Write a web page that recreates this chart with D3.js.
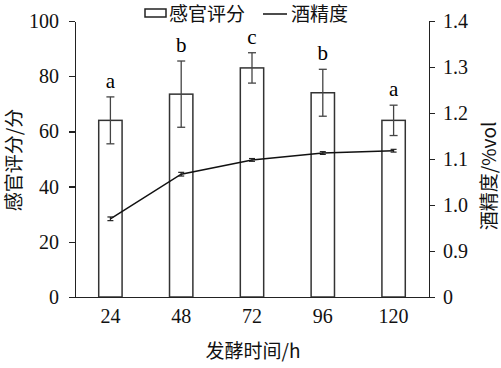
<!DOCTYPE html>
<html lang="en">
<head>
<meta charset="utf-8">
<title>fermentation</title>
<script type="text/javascript" src="https://cdn.jsdelivr.net/npm/d3@7"></script>
<style type="text/css">
body{ margin:0; background:#fff; }
.axis path,
.axis line{
  stroke: #222;
  stroke-width: 1.5px;
  shape-rendering: crispEdges;
}
.axis text{
  font-family: "Liberation Serif", "Times New Roman", serif;
  font-size: 20px;
  fill: #111;
}
.cn{
  font-family: "Noto Sans CJK SC", sans-serif;
  font-size: 19px;
  fill: #111;
}
</style>
</head>
<body>
<script type="text/javascript">
var w = 501;
var h = 368;

// data
var hours = ["24", "48", "72", "96", "120"];
var score = [64, 73.5, 83, 74, 64];
var scoreErr = [8.5, 12, 5.5, 8.5, 5.5];
var letters = ["a", "b", "c", "b", "a"];
var alcohol = [0.970, 1.067, 1.098, 1.113, 1.118];
var alcoholErr = [0.004, 0.004, 0.003, 0.003, 0.003];
var leftTicks = [0, 20, 40, 60, 80, 100];
var rightTicks = [0.8, 0.9, 1.0, 1.1, 1.2, 1.3, 1.4];

var pLeft = 75, pRight = 429, pTop = 21, pBottom = 297;

var xScale = d3.scaleBand()
               .domain(hours)
               .range([pLeft, pRight])
               .paddingInner(0.67)
               .paddingOuter(0.335);
var yScale = d3.scaleLinear()
               .domain([0, 100])
               .range([pBottom, pTop]);
// right axis is broken: 0 sits where 0.8 would be
var y2Scale = d3.scaleLinear()
               .domain([0.8, 1.4])
               .range([pBottom, pTop]);

var svg = d3.select("body")
            .append("svg")
            .attr("width", w)
            .attr("height", h);

// bars
svg.selectAll("rect.bar")
   .data(score)
   .enter()
   .append("rect")
   .attr("class", "bar")
   .attr("x", function(d, i){ return xScale(hours[i]); })
   .attr("y", function(d){ return yScale(d); })
   .attr("width", xScale.bandwidth())
   .attr("height", function(d){ return pBottom - yScale(d); })
   .attr("fill", "white")
   .attr("stroke", "#333")
   .attr("stroke-width", 1.5);

var cx = function(i){ return xScale(hours[i]) + xScale.bandwidth() / 2; };

// bar error bars
var eb = svg.append("g").attr("stroke", "#444").attr("stroke-width", 1.3);
score.forEach(function(d, i){
  var y1 = yScale(d + scoreErr[i]), y0 = yScale(d - scoreErr[i]);
  eb.append("line").attr("x1", cx(i)).attr("x2", cx(i)).attr("y1", y1).attr("y2", y0);
  eb.append("line").attr("x1", cx(i) - 4).attr("x2", cx(i) + 4).attr("y1", y1).attr("y2", y1);
  eb.append("line").attr("x1", cx(i) - 4).attr("x2", cx(i) + 4).attr("y1", y0).attr("y2", y0);
});

// significance letters
svg.selectAll("text.sig")
   .data(letters)
   .enter()
   .append("text")
   .attr("class", "sig")
   .attr("x", function(d, i){ return cx(i); })
   .attr("y", function(d, i){ return yScale(score[i] + scoreErr[i]) - 9; })
   .attr("text-anchor", "middle")
   .attr("font-family", "Liberation Serif, serif")
   .attr("font-size", "21px")
   .text(function(d){ return d; });

// alcohol line
var line = d3.line()
             .x(function(d, i){ return cx(i); })
             .y(function(d){ return y2Scale(d); });
svg.append("path")
   .datum(alcohol)
   .attr("d", line)
   .attr("fill", "none")
   .attr("stroke", "#111")
   .attr("stroke-width", 1.5);

var lb = svg.append("g").attr("stroke", "#222").attr("stroke-width", 1.2);
alcohol.forEach(function(d, i){
  var y1 = y2Scale(d + alcoholErr[i]), y0 = y2Scale(d - alcoholErr[i]);
  lb.append("line").attr("x1", cx(i)).attr("x2", cx(i)).attr("y1", y1).attr("y2", y0);
  lb.append("line").attr("x1", cx(i) - 3).attr("x2", cx(i) + 3).attr("y1", y1).attr("y2", y1);
  lb.append("line").attr("x1", cx(i) - 3).attr("x2", cx(i) + 3).attr("y1", y0).attr("y2", y0);
});

// axes
var xAxis = d3.axisBottom(xScale).tickSize(0).tickPadding(12);
var yAxis = d3.axisLeft(yScale).tickValues(leftTicks).tickSize(6).tickSizeOuter(0).tickPadding(10);
var y2Axis = d3.axisRight(y2Scale).tickValues(rightTicks).tickSize(6).tickSizeOuter(0).tickPadding(8)
               .tickFormat(function(d){ return d === 0.8 ? "0" : d3.format(".1f")(d); });

svg.append("g")
   .attr("class", "axis")
   .attr("transform", "translate(0," + pBottom + ")")
   .call(xAxis);
svg.append("g")
   .attr("class", "axis")
   .attr("transform", "translate(" + pLeft + ",0)")
   .call(yAxis);
svg.append("g")
   .attr("class", "axis")
   .attr("transform", "translate(" + pRight + ",0)")
   .call(y2Axis);

// axis titles
svg.append("text")
   .attr("class", "cn")
   .attr("x", (pLeft + pRight) / 2 + 1)
   .attr("y", 358)
   .attr("text-anchor", "middle")
   .text("发酵时间/h");
svg.append("text")
   .attr("class", "cn")
   .attr("transform", "translate(21,160) rotate(-90)")
   .attr("text-anchor", "middle")
   .text("感官评分/分");
svg.append("text")
   .attr("class", "cn")
   .attr("transform", "translate(496,176) rotate(-90)")
   .attr("text-anchor", "middle")
   .text("酒精度/%vol");

// legend
var lg = svg.append("g");
lg.append("rect").attr("x", 145).attr("y", 9).attr("width", 21).attr("height", 8)
  .attr("fill", "white").attr("stroke", "#222").attr("stroke-width", 1.5);
lg.append("text").attr("class", "cn").attr("x", 169).attr("y", 21).text("感官评分");
lg.append("line").attr("x1", 263).attr("x2", 287).attr("y1", 14).attr("y2", 14)
  .attr("stroke", "#111").attr("stroke-width", 1.5);
lg.append("text").attr("class", "cn").attr("x", 291).attr("y", 21).text("酒精度");
</script>
</body>
</html>
